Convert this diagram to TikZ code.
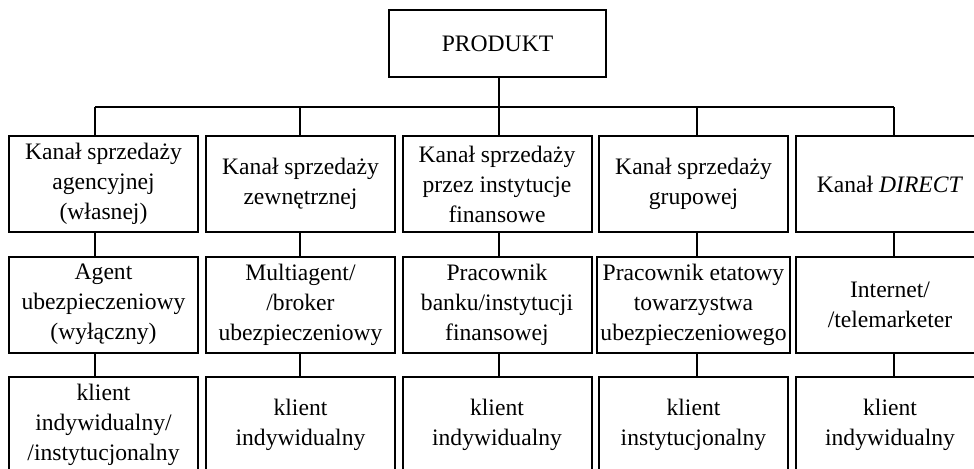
\documentclass[tikz,border=0pt]{standalone}
\usepackage{fontspec}
\setmainfont{Liberation Serif}
\usepackage{tikz}
\usetikzlibrary{calc}

\begin{document}
\begin{tikzpicture}[
  x=0.5pt, y=-0.5pt,
  font=\fontsize{11.8pt}{15pt}\selectfont,
  line width=1pt,
  box/.style={draw, line width=1pt, minimum width=94.5pt, minimum height=48pt, align=center, inner sep=1.5pt},
  top/.style={box, minimum width=108.5pt, minimum height=33.5pt},
  link/.style={line width=1pt},
]
\useasboundingbox (0,0) rectangle (974,468);
\clip (0,0) rectangle (974,468);
% ---------------- product ----------------
\node[top] (prod) at (497.5,43.5) {PRODUKT};
\coordinate (bus) at (499,107);
% ---------------- sales channels ----------------
\node[box] (k1) at (103.5,184) {Kanał sprzedaży\\agencyjnej\\(własnej)};
\node[box] (k2) at (300.5,184) {Kanał sprzedaży\\zewnętrznej};
\node[box] (k3) at (497,184) {Kanał sprzedaży\\przez instytucje\\finansowe};
\node[box] (k4) at (693.5,184) {Kanał sprzedaży\\grupowej};
\node[box] (k5) at (890,184) {Kanał \textit{DIRECT}};
% ---------------- intermediaries ----------------
\node[box] (p1) at (103.5,304.5) {Agent\\ubezpieczeniowy\\(wyłączny)};
\node[box] (p2) at (300.5,304.5) {Multiagent/\\/broker\\ubezpieczeniowy};
\node[box] (p3) at (497,304.5) {Pracownik\\banku/instytucji\\finansowej};
\node[box] (p4) at (693.5,304.5) {Pracownik etatowy\\towarzystwa\\ubezpieczeniowego};
\node[box] (p5) at (890,304.5) {Internet/\\/telemarketer};
% ---------------- clients ----------------
\node[box] (c1) at (103.5,425) {klient\\indywidualny/\\/instytucjonalny};
\node[box] (c2) at (300.5,425) {klient\\indywidualny};
\node[box] (c3) at (497,425) {klient\\indywidualny};
\node[box] (c4) at (693.5,425) {klient\\instytucjonalny};
\node[box] (c5) at (890,425) {klient\\indywidualny};
% ---------------- stems ----------------
\coordinate (s1) at (95,107);
\coordinate (s2) at (300,107);
\coordinate (s3) at (499,107);
\coordinate (s4) at (697,107);
\coordinate (s5) at (894,107);
\draw[link] (prod.south -| bus) -- (bus);
\draw[link] (s1) -- (s5);
\draw[link] (s1) -- (s1 |- k1.north);
\draw[link] (s2) -- (s2 |- k2.north);
\draw[link] (s3) -- (s3 |- k3.north);
\draw[link] (s4) -- (s4 |- k4.north);
\draw[link] (s5) -- (s5 |- k5.north);
\draw[link] (s1 |- k1.south) -- (s1 |- p1.north);
\draw[link] (s2 |- k2.south) -- (s2 |- p2.north);
\draw[link] (s3 |- k3.south) -- (s3 |- p3.north);
\draw[link] (s4 |- k4.south) -- (s4 |- p4.north);
\draw[link] (s5 |- k5.south) -- (s5 |- p5.north);
\draw[link] (s1 |- p1.south) -- (s1 |- c1.north);
\draw[link] (s2 |- p2.south) -- (s2 |- c2.north);
\draw[link] (s3 |- p3.south) -- (s3 |- c3.north);
\draw[link] (s4 |- p4.south) -- (s4 |- c4.north);
\draw[link] (s5 |- p5.south) -- (s5 |- c5.north);
\end{tikzpicture}
\end{document}
